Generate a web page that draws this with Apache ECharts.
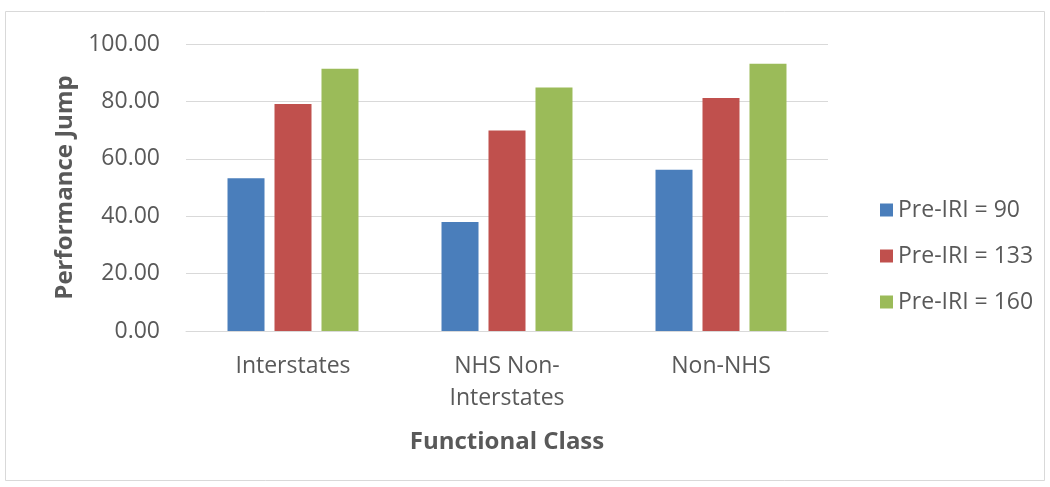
<!DOCTYPE html>
<html>
<head>
<meta charset="utf-8">
<script src="https://cdn.jsdelivr.net/npm/echarts@6/dist/echarts.min.js"></script>
<style>
  html, body { margin: 0; padding: 0; background: #ffffff; }
  #chart { width: 1050px; height: 487px; }
</style>
</head>
<body>
<div id="chart"></div>
<script>
// Functional classes on the category axis
const categories = ['Interstates', 'NHS Non-\nInterstates', 'Non-NHS'];
// Performance jump for each pre-treatment IRI level
const preIri90 = [53.2, 38.0, 56.2];
const preIri133 = [79.1, 69.9, 81.2];
const preIri160 = [91.4, 84.8, 93.1];
const seriesNames = ['Pre-IRI = 90', 'Pre-IRI = 133', 'Pre-IRI = 160'];
const yTicks = [0, 20, 40, 60, 80, 100];

const textColor = '#595959';
const gridColor = '#d9d9d9';
const font = '"Open Sans", "Noto Sans", sans-serif';

const chart = echarts.init(document.getElementById('chart'), null, { renderer: 'canvas' });

const barStyle = (color) => ({ color: color });

chart.setOption({
  backgroundColor: '#ffffff',
  animation: false,
  graphic: [{
    type: 'rect',
    shape: { x: 5.5, y: 11.5, width: 1039, height: 469 },
    style: { fill: 'none', stroke: '#d9d9d9', lineWidth: 1 },
    silent: true
  }],
  grid: { left: 186, right: 222, top: 44, bottom: 156 },
  legend: {
    orient: 'vertical',
    left: 875,
    top: 193,
    itemWidth: 13,
    itemHeight: 13,
    itemGap: 22,
    icon: 'rect',
    data: seriesNames,
    textStyle: { color: textColor, fontFamily: font, fontSize: 23, lineHeight: 24, padding: [0, 0, 0, 0] }
  },
  xAxis: {
    type: 'category',
    data: categories,
    name: 'Functional Class',
    nameLocation: 'middle',
    nameGap: 99,
    nameTextStyle: { color: textColor, fontFamily: font, fontSize: 24, fontWeight: 'bold' },
    axisLine: { show: true, lineStyle: { color: gridColor, width: 1 } },
    axisTick: { show: false },
    axisLabel: { color: textColor, fontFamily: font, fontSize: 23, lineHeight: 32, margin: 19, interval: 0 }
  },
  yAxis: {
    type: 'value',
    min: yTicks[0],
    max: yTicks[yTicks.length - 1],
    interval: yTicks[1] - yTicks[0],
    name: 'Performance Jump',
    nameLocation: 'middle',
    nameGap: 108,
    nameTextStyle: { color: textColor, fontFamily: font, fontSize: 24, fontWeight: 'bold' },
    axisLine: { show: false },
    axisTick: { show: false },
    splitLine: { lineStyle: { color: gridColor, width: 1 } },
    axisLabel: {
      color: textColor, fontFamily: font, fontSize: 23, margin: 26,
      formatter: (v) => v.toFixed(2)
    }
  },
  series: [
    { name: seriesNames[0], type: 'bar', data: preIri90, barWidth: 37, barGap: '27%', itemStyle: barStyle('#4a7ebb') },
    { name: seriesNames[1], type: 'bar', data: preIri133, barWidth: 37, barGap: '27%', itemStyle: barStyle('#c0504d') },
    { name: seriesNames[2], type: 'bar', data: preIri160, barWidth: 37, barGap: '27%', itemStyle: barStyle('#9bbb59') }
  ]
});
</script>
</body>
</html>
